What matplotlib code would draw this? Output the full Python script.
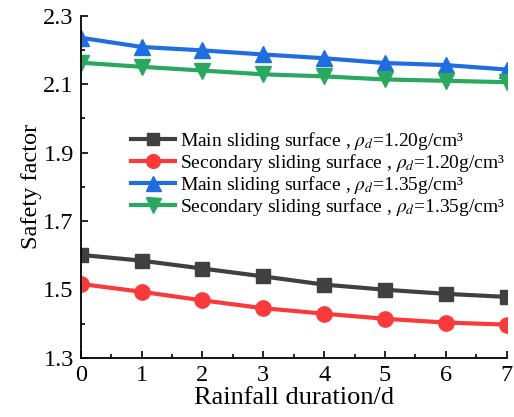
import matplotlib
matplotlib.use("Agg")
import matplotlib.pyplot as plt
from matplotlib.ticker import MultipleLocator

plt.rcParams['font.family'] = ['Liberation Serif', 'DejaVu Serif']
plt.rcParams['mathtext.fontset'] = 'stix'

days = [0, 1, 2, 3, 4, 5, 6, 7]
main_120 = [1.601, 1.584, 1.561, 1.538, 1.514, 1.499, 1.487, 1.478]
sec_120 = [1.516, 1.493, 1.468, 1.445, 1.429, 1.414, 1.403, 1.397]
main_135 = [2.236, 2.209, 2.199, 2.187, 2.176, 2.162, 2.156, 2.143]
sec_135 = [2.163, 2.151, 2.140, 2.129, 2.123, 2.114, 2.110, 2.106]

labels = [
    r"Main sliding surface , $\rho_d$=1.20g/cm³",
    r"Secondary sliding surface , $\rho_d$=1.20g/cm³",
    r"Main sliding surface , $\rho_d$=1.35g/cm³",
    r"Secondary sliding surface , $\rho_d$=1.35g/cm³",
]

fig = plt.figure(figsize=(5.14, 4.17), dpi=100)
ax = fig.add_axes([0.157, 0.142, 0.829, 0.82])

ax.plot(days, main_120, color='#404040', marker='s', ms=10, lw=3, label=labels[0])
ax.plot(days, sec_120, color='#fa3a3a', marker='o', ms=11, lw=3, label=labels[1])
ax.plot(days, main_135, color='#1e6ee0', marker='^', ms=12, lw=3, label=labels[2])
ax.plot(days, sec_135, color='#2aa860', marker='v', ms=12, lw=3, label=labels[3])

ax.set_xlim(0, 7)
ax.set_ylim(1.3, 2.3)
ax.xaxis.set_major_locator(MultipleLocator(1))
ax.xaxis.set_minor_locator(MultipleLocator(0.5))
ax.yaxis.set_minor_locator(MultipleLocator(0.1))
ax.set_yticks([1.3, 1.5, 1.7, 1.9, 2.1, 2.3])
ax.tick_params(which='both', direction='in', labelsize=17.5, width=1.2)
ax.tick_params(which='major', length=5, pad=5)
ax.tick_params(which='minor', length=3)
for s in ['top', 'right']:
    ax.spines[s].set_visible(False)
for s in ['left', 'bottom']:
    ax.spines[s].set_linewidth(1.3)

ax.set_xlabel('Rainfall duration/d', fontsize=19, labelpad=1)
ax.set_ylabel('Safety factor', fontsize=17.5, labelpad=1)

ax.legend(loc='upper left', bbox_to_anchor=(0.235, 0.712), bbox_transform=fig.transFigure,
          frameon=False, fontsize=14, handlelength=2.3, handletextpad=0.25,
          labelspacing=0.0, borderpad=0, markerscale=0.9)

fig.savefig('out.png', dpi=100)
